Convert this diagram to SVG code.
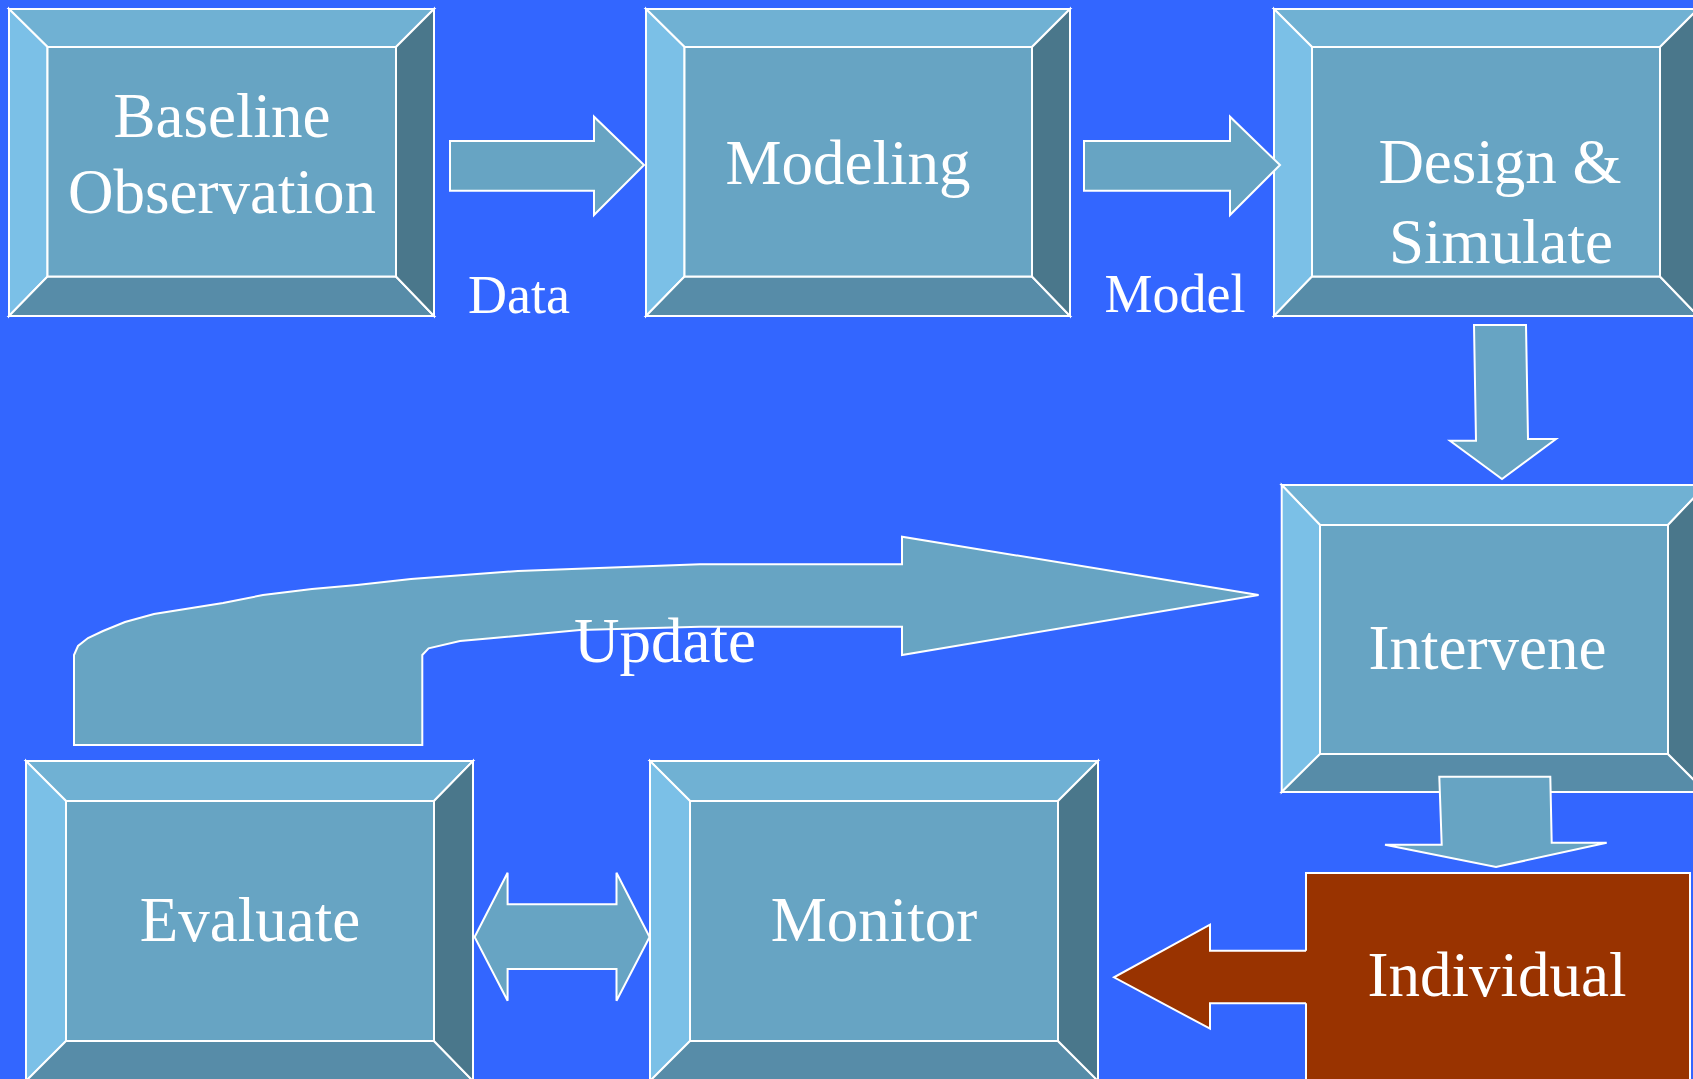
<svg xmlns="http://www.w3.org/2000/svg" width="1693" height="1079" viewBox="0 0 1693 1079">
<style>
.top{fill:#70B1D3;stroke:#fff;stroke-width:2;stroke-linejoin:miter}
.lft{fill:#7BC0E7;stroke:#fff;stroke-width:2}
.bot{fill:#578CA8;stroke:#fff;stroke-width:2}
.rgt{fill:#4A778B;stroke:#fff;stroke-width:2}
.face{fill:#67A4C3;stroke:#fff;stroke-width:2}
.arrow{fill:#67A4C3;stroke:#fff;stroke-width:2;stroke-linejoin:miter}
.brown{fill:#993300}
.bline{fill:none;stroke:#fff;stroke-width:2}
.t{font-family:"Liberation Serif","Times New Roman",serif;fill:#fff;text-anchor:middle}
.big{font-size:63px}
.small{font-size:54px}
</style>
<rect x="0" y="0" width="1693" height="1079" fill="#3366FF"/>

<g id="node-baseline">
<polygon class="top" points="9,9 434,9 396,47 47.5,47"/>
<polygon class="lft" points="9,9 47.5,47 47.5,276.5 9,316"/>
<polygon class="bot" points="9,316 47.5,276.5 396,276.5 434,316"/>
<polygon class="rgt" points="434,9 434,316 396,276.5 396,47"/>
<rect class="face" x="47.5" y="47" width="348.5" height="229.5"/>
<text class="t big" x="222" y="136.7">Baseline</text>
<text class="t big" x="222" y="213.3">Observation</text>
</g>

<g id="node-modeling">
<polygon class="top" points="646,9 1070,9 1032,47 684.5,47"/>
<polygon class="lft" points="646,9 684.5,47 684.5,276.5 646,316"/>
<polygon class="bot" points="646,316 684.5,276.5 1032,276.5 1070,316"/>
<polygon class="rgt" points="1070,9 1070,316 1032,276.5 1032,47"/>
<rect class="face" x="684.5" y="47" width="347.5" height="229.5"/>
<text class="t big" x="848" y="184">Modeling</text>
</g>

<g id="node-design">
<polygon class="top" points="1274,9 1698,9 1660,47 1312,47"/>
<polygon class="lft" points="1274,9 1312,47 1312,276.5 1274,316"/>
<polygon class="bot" points="1274,316 1312,276.5 1660,276.5 1698,316"/>
<polygon class="rgt" points="1698,9 1698,316 1660,276.5 1660,47"/>
<rect class="face" x="1312" y="47" width="348" height="229.5"/>
<text class="t big" x="1500" y="183">Design &amp;</text>
<text class="t big" x="1501" y="263.3">Simulate</text>
</g>

<g id="node-intervene">
<polygon class="top" points="1281.7,485 1706,485 1668,525 1320,525"/>
<polygon class="lft" points="1281.7,485 1320,525 1320,754 1281.7,792"/>
<polygon class="bot" points="1281.7,792 1320,754 1668,754 1706,792"/>
<polygon class="rgt" points="1706,485 1706,792 1668,754 1668,525"/>
<rect class="face" x="1320" y="525" width="348" height="229"/>
<text class="t big" x="1487.5" y="669">Intervene</text>
</g>

<g id="node-individual">
<rect x="1306" y="873" width="384" height="220" fill="#993300" stroke="#fff" stroke-width="2"/>
<text class="t big" x="1497" y="996">Individual</text>
</g>

<g id="node-evaluate">
<polygon class="top" points="26,761 473,761 434,801 66,801"/>
<polygon class="lft" points="26,761 66,801 66,1041 26,1081"/>
<polygon class="bot" points="26,1081 66,1041 434,1041 473,1081"/>
<polygon class="rgt" points="473,761 473,1081 434,1041 434,801"/>
<rect class="face" x="66" y="801" width="368" height="240"/>
<text class="t big" x="250" y="940.7">Evaluate</text>
</g>

<g id="node-monitor">
<polygon class="top" points="650,761 1098,761 1058,801 690,801"/>
<polygon class="lft" points="650,761 690,801 690,1041 650,1081"/>
<polygon class="bot" points="650,1081 690,1041 1058,1041 1098,1081"/>
<polygon class="rgt" points="1098,761 1098,1081 1058,1041 1058,801"/>
<rect class="face" x="690" y="801" width="368" height="240"/>
<text class="t big" x="874" y="940.7">Monitor</text>
</g>

<g id="connectors">
<path id="arrow-data" class="arrow" d="M450,141 L594,141 L594,116.7 L644,165 L594,215 L594,190.7 L450,190.7 Z"/>
<text class="t small" x="519" y="312.5">Data</text>
<path id="arrow-model" class="arrow" d="M1084,141 L1230,141 L1230,116.7 L1280,165 L1230,215 L1230,190.7 L1084,190.7 Z"/>
<text class="t small" x="1175" y="312.3">Model</text>
<path id="arrow-design-intervene" class="arrow" d="M1474,325 L1526,325 L1528,439 L1556,439 L1502,479 L1450,440.7 L1476,440.7 Z"/>
<path id="arrow-intervene-individual" class="arrow" d="M1439.3,776.8 L1550.3,776.8 L1551.7,842.8 L1606.7,842.8 L1496,866.9 L1385,844.8 L1441.7,844.8 Z"/>
<g id="arrow-individual-monitor">
<path class="brown" d="M1114,977.3 L1210,924.7 L1210,950.7 L1309,950.7 L1309,1003.3 L1210,1003.3 L1210,1028.7 Z"/>
<path class="bline" d="M1306,950.7 L1210,950.7 L1210,924.7 L1114,977.3 L1210,1028.7 L1210,1003.3 L1306,1003.3"/>
</g>
<path id="arrow-evaluate-monitor" class="arrow" d="M474.6,937 L507.6,872.7 L507.6,904.3 L616.5,904.3 L616.5,872.7 L649.6,937 L616.5,1000.7 L616.5,969 L507.6,969 L507.6,1000.7 Z"/>
<path id="arrow-update" class="arrow" d="M74,745 L74,655 L78,646 L88,638 L103,631 L125,622 L154,614 L223,603 L263,595 L312,589 L357,585 L411,579 L518,571 L700,564.3 L902,564.3 L902,536.7 L1258.6,595 L902,655 L902,626.7 L700,626.7 L580,630 L491,638.3 L460,641 L428.6,648.3 L422.3,655 L422.3,745 Z"/>
<text class="t big" x="665" y="661.7">Update</text>
</g>
</svg>
